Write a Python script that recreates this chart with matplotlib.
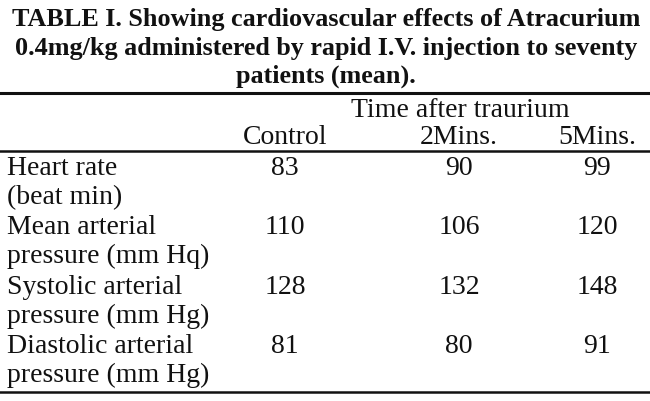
import matplotlib.pyplot as plt

title_lines = ['TABLE I. Showing cardiovascular effects of Atracurium',
               '0.4mg/kg administered by rapid I.V. injection to seventy',
               'patients (mean).']
group_header = 'Time after traurium'
columns = ['Control', '2Mins.', '5Mins.']
row_labels = [('Heart rate', '(beat min)'),
              ('Mean arterial', 'pressure (mm Hq)'),
              ('Systolic arterial', 'pressure (mm Hg)'),
              ('Diastolic arterial', 'pressure (mm Hg)')]
control = [83, 110, 128, 81]
min2 = [90, 106, 132, 80]
min5 = [99, 120, 148, 91]

plt.rcParams['font.family'] = ['Liberation Serif', 'DejaVu Serif']

fig = plt.figure(figsize=(6.5, 4.02), dpi=100)
ax = fig.add_axes([0, 0, 1, 1])
ax.set_xlim(0, 650)
ax.set_ylim(402, 0)
ax.axis('off')

ink = '#111111'
fs = 20

# title, baselines
for i, line in enumerate(title_lines):
    ax.text(326, 26 + i * 28.5, line, ha='center', va='baseline',
            fontsize=18.8, fontweight='bold', color=ink)

ax.plot([0, 650], [94, 94], color=ink, lw=2.2)
ax.text(460, 117, group_header, ha='center', va='baseline', fontsize=fs, color=ink)

col_x = [285, 459, 597]
for x, c in zip(col_x, columns):
    ax.text(x, 144, c, ha='center', va='baseline', fontsize=fs, color=ink)
ax.plot([0, 650], [152, 152], color=ink, lw=1.8)

values = [control, min2, min5]
for r, (l1, l2) in enumerate(row_labels):
    y = 175 + r * 59.3
    ax.text(7, y, l1, ha='left', va='baseline', fontsize=fs, color=ink)
    ax.text(7, y + 29, l2, ha='left', va='baseline', fontsize=fs, color=ink)
    for x, col in zip(col_x, values):
        ax.text(x, y, str(col[r]), ha='center', va='baseline', fontsize=fs, color=ink)

ax.plot([0, 650], [393, 393], color=ink, lw=1.8)

fig.savefig('out.png', dpi=100)
